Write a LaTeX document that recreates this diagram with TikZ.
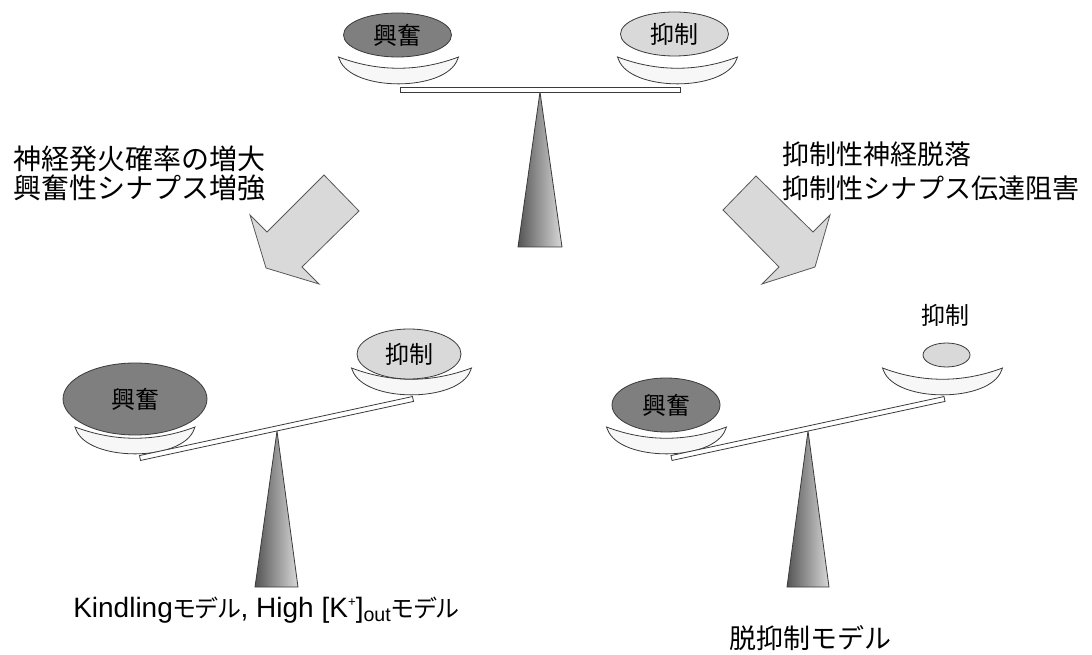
\documentclass[tikz,border=0pt]{standalone}
\usepackage{fontspec}
\setmainfont{Liberation Sans}
\newfontfamily\jp{Noto Sans CJK JP}
\newfontfamily\jpp{Noto Sans CJK JP}[RawFeature=+palt]
\usetikzlibrary{shapes.geometric}
\definecolor{darkw}{HTML}{7F7F7F}
\definecolor{lightw}{HTML}{D9D9D9}
\definecolor{edge}{HTML}{3A3A3A}
\definecolor{fulL}{HTML}{555555}
\definecolor{fulR}{HTML}{D8D8D8}
\newcommand{\kata}[1]{{\jpp\fontsize{18}{18}\selectfont #1}}
\begin{document}
\begin{tikzpicture}[x=0.75pt,y=-0.75pt,
  weight/.style={ellipse, draw=edge, line width=0.6pt, inner sep=0pt, font=\jp\fontsize{18}{18}\selectfont},
  heavy/.style={weight, fill=darkw},
  light/.style={weight, fill=lightw},
  beam/.style={rectangle, draw=edge, fill=white, line width=0.6pt, inner sep=0pt, minimum height=3.75pt},
  bigarrow/.style={draw=edge!85, fill=lightw, line width=0.6pt, line join=miter},
  panstyle/.style={draw=edge, fill=gray!6, line width=0.6pt},
  fulcrum/.style={draw=edge, line width=0.6pt},
  pics/pan/.style={code={\draw[panstyle] (-60,0) .. controls (-20,15) and (20,15) .. (60,0) -- (59,2.5) .. controls (47,35) and (-47,35) .. (-59,2.5) -- cycle;}},
  jlab/.style={inner sep=0pt, anchor=base west},
]
\useasboundingbox (0,0) rectangle (1092,655);

% ---------- top balance ----------
\shade[left color=fulL, right color=fulR] (540,92) -- (518,247) -- (562,247) -- cycle;
\draw[fulcrum] (540,92) -- (518,247) -- (562,247) -- cycle;
\pic at (398.5,57) {pan};
\pic at (677.5,57) {pan};
\node[beam, minimum width=210pt] (beamT) at (540,89.5) {};
\node[heavy, minimum width=81pt, minimum height=33pt] (exT) at (397.5,35) {興奮};
\node[light, minimum width=81pt, minimum height=33pt] (inT) at (674.5,34) {抑制};

% ---------- arrows ----------
\draw[bigarrow] (324,175) -- (359,211) -- (302,267) -- (319,284) -- (266,268) -- (250,215) -- (267,232) -- cycle;
\draw[bigarrow] (756,176) -- (723,210) -- (779,267) -- (762,284) -- (815,267) -- (830,215) -- (813,232) -- cycle;

% ---------- cause texts ----------
\node[jlab, font=\jp\fontsize{21}{21}\selectfont] (causeL1) at (13,170) {神経発火確率の増大};
\node[jlab, font=\jp\fontsize{21}{21}\selectfont] (causeL2) at (13,199) {興奮性シナプス増強};
\node[jlab, font=\jp\fontsize{20.25}{20.25}\selectfont] (causeR1) at (782,164.5) {抑制性神経脱落};
\node[jlab, font=\jp\fontsize{20.25}{20.25}\selectfont] (causeR2) at (782,199) {抑制性シナプス伝達阻害};

% ---------- bottom-left balance ----------
\shade[left color=fulL, right color=fulR] (277,431) -- (255,587) -- (298,587) -- cycle;
\draw[fulcrum] (277,431) -- (255,587) -- (298,587) -- cycle;
\pic at (135,427) {pan};
\pic at (411.5,368) {pan};
\node[beam, minimum width=209.5pt, rotate=12.2] (beamL) at (276.5,428.5) {};
\node[heavy, minimum width=108pt, minimum height=54pt] (exL) at (135,399) {興奮};
\node[light, minimum width=78pt, minimum height=37.5pt] (inL) at (409,354) {抑制};
\node[jlab, font=\fontsize{21}{21}\selectfont] (modelL) at (73,617)
  {Kindling\kata{モデル}, High [K\raisebox{0.7ex}{\fontsize{10}{10}\selectfont +}]\textsubscript{out}\kata{モデル}};

% ---------- bottom-right balance ----------
\shade[left color=fulL, right color=fulR] (808,431) -- (787,587) -- (829,587) -- cycle;
\draw[fulcrum] (808,431) -- (787,587) -- (829,587) -- cycle;
\pic at (666.5,427) {pan};
\pic at (942.5,368) {pan};
\node[beam, minimum width=209.5pt, rotate=12.2] (beamR) at (808,428.5) {};
\node[heavy, minimum width=81pt, minimum height=40.5pt] (exR) at (666,405) {興奮};
\node[light, minimum width=35.25pt, minimum height=18pt] (inR) at (946.5,355) {};
\node[inner sep=0pt, font=\jp\fontsize{18}{18}\selectfont] (inRlab) at (945,315) {抑制};
\node[jlab, font=\jp\fontsize{20.25}{20.25}\selectfont] (modelR) at (729,648) {脱抑制モデル};
\end{tikzpicture}
\end{document}
